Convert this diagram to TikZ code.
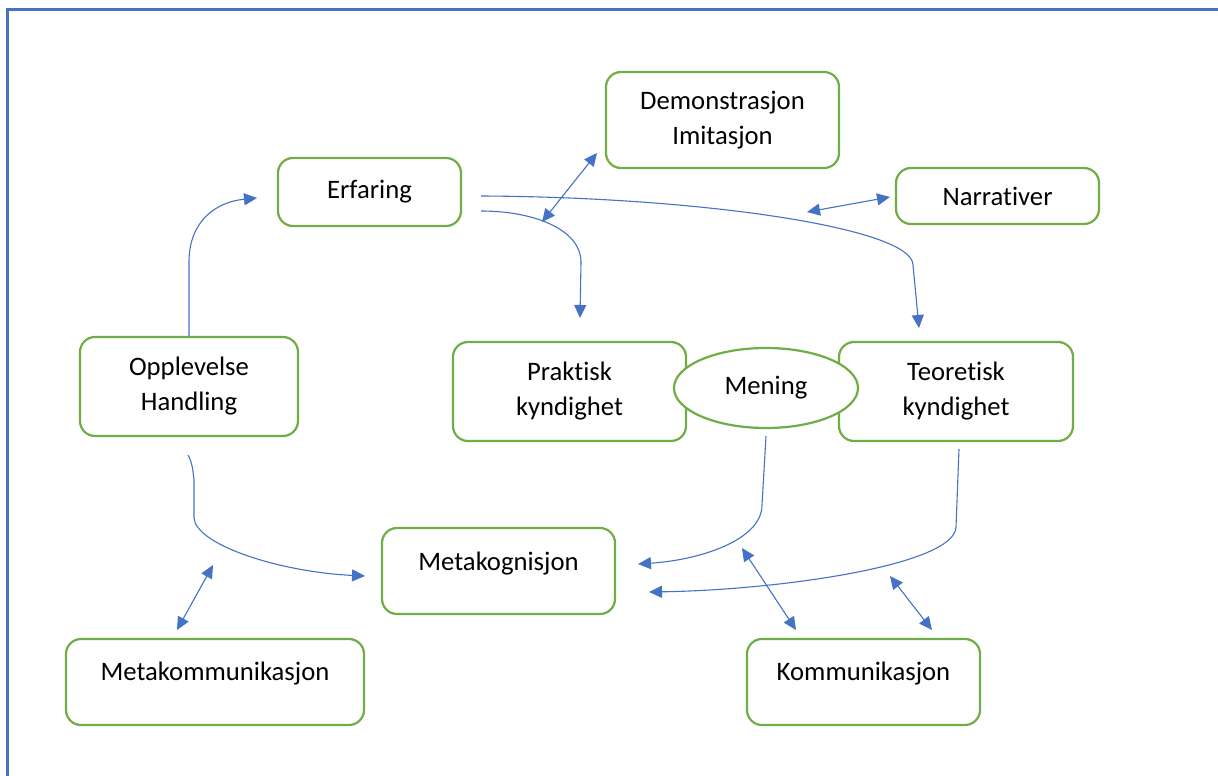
\documentclass[tikz,border=0pt]{standalone}
\usepackage{fontspec}
\setmainfont{Carlito}[Ligatures=NoCommon]
\usetikzlibrary{arrows.meta,shapes.geometric}
\definecolor{boxgreen}{HTML}{70AD47}
\definecolor{linkblue}{HTML}{4472C4}

\begin{document}
\begin{tikzpicture}[x=1pt,y=-1pt,
  box/.style={draw=boxgreen, line width=2.2pt, rounded corners=15pt, fill=white,
    align=center, inner sep=0pt, text=black, font=\fontsize{26.67}{35}\selectfont},
  lowtext/.style={text height=18pt, text depth=#1},
  link/.style={draw=linkblue, line width=1.1pt, -{Triangle[length=13pt,width=12pt]}},
  both/.style={draw=linkblue, line width=1.1pt, {Triangle[length=13pt,width=12pt]}-{Triangle[length=13pt,width=12pt]}}]

\useasboundingbox (0,0) rectangle (1218,776);
\fill[white] (0,0) rectangle (1218,776);

% frame (left and top edges)
\draw[linkblue, line width=3pt] (7.7,776) -- (7.7,9.5) -- (1218,9.5);

% boxes
\node[box, minimum width=233pt, minimum height=96pt] (demo) at (722.5,120) {Demonstrasjon\\Imitasjon};
\node[box, minimum width=183pt, minimum height=68pt] (erf) at (369.5,192) {Erfaring};
\node[box, minimum width=203pt, minimum height=56pt] (narr) at (997.5,196) {Narrativer};
\node[box, minimum width=218pt, minimum height=99pt] (oppl) at (189,386.5) {Opplevelse\\Handling};
\node[box, minimum width=233pt, minimum height=99pt] (prak) at (569.5,391.5) {Praktisk\\kyndighet};
\node[box, minimum width=234pt, minimum height=99pt] (teor) at (956,391.5) {Teoretisk\\kyndighet};
\node[box, ellipse, minimum width=184pt, minimum height=80pt] (mening) at (766,388) {Mening};
\node[box, lowtext=20pt, minimum width=233pt, minimum height=86pt] (metakog) at (498.5,571) {Metakognisjon};
\node[box, lowtext=22pt, minimum width=298pt, minimum height=86pt] (metakom) at (215,682) {Metakommunikasjon};
\node[box, lowtext=22pt, minimum width=233pt, minimum height=86pt] (komm) at (863.5,682) {Kommunikasjon};

% free ends of the connectors
\coordinate (erfIn) at (257,198);
\coordinate (erfOutA) at (481,211);
\coordinate (erfOutB) at (481,196);
\coordinate (prakIn) at (580,318);
\coordinate (teorIn) at (919,328);
\coordinate (demoA) at (597,153);
\coordinate (demoB) at (542,222);
\coordinate (narrA) at (890,197);
\coordinate (narrB) at (807,212);
\coordinate (opplOut) at (188,455);
\coordinate (metakogInA) at (365,576);
\coordinate (meningOut) at (766,436);
\coordinate (metakogInB) at (638,564);
\coordinate (teorOut) at (959,449);
\coordinate (metakogInC) at (649,592);
\coordinate (metakomA) at (213,565);
\coordinate (metakomB) at (177,630);
\coordinate (kommA) at (742,548);
\coordinate (kommB) at (796,630);
\coordinate (kommC) at (890,576);
\coordinate (kommD) at (932,630);

% connectors
\draw[link] (oppl.north) -- (189,262) .. controls (189,222) and (215,202) .. (erfIn);
\draw[link] (erfOutA) .. controls (535,211) and (581,230) .. (581,262) -- (prakIn);
\draw[link] (erfOutB) .. controls (700,197) and (913,228) .. (913,265) -- (teorIn);
\draw[link] (opplOut) .. controls (192,462) and (193,470) .. (194,480) -- (194,518)
  .. controls (196,545) and (280,572) .. (metakogInA);
\draw[link] (meningOut) -- (762,505) .. controls (762,540) and (700,560) .. (metakogInB);
\draw[link] (teorOut) -- (956,527) .. controls (955,565) and (780,590) .. (metakogInC);

\draw[both] (demoA) -- (demoB);
\draw[both] (narrA) -- (narrB);
\draw[both] (metakomA) -- (metakomB);
\draw[both] (kommA) -- (kommB);
\draw[both] (kommC) -- (kommD);
\end{tikzpicture}
\end{document}
